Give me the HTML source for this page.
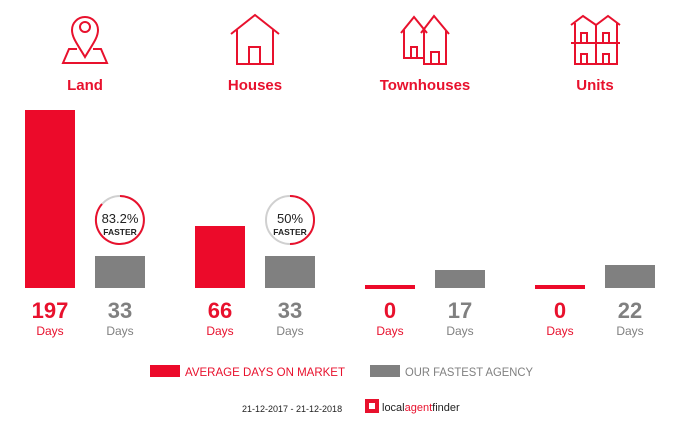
<!DOCTYPE html>
<html><head><style>
body{margin:0;width:700px;height:420px;background:#fff;overflow:hidden;font-family:"Liberation Sans",sans-serif}
</style></head><body>
<svg width="700" height="420" xmlns="http://www.w3.org/2000/svg" font-family="Liberation Sans, sans-serif">
<g fill="none" stroke="#e8112d" stroke-width="2">
<path d="M85 57 C78 45 72 38 72 30 A13 13 0 0 1 98 30 C98 38 92 45 85 57Z"/>
<circle cx="85" cy="27" r="5"/>
<path d="M77 49 H69 L63 63 H107 L101 49 H93"/>
<path d="M231 34 L255 15 L279 34 M237 30 V64 H273 V30"/>
<rect x="249" y="47" width="11" height="17"/>
<path d="M401 33 L414 17 L427 33 M404 30 V58 H424 M421 33 L434 16 L449 34 M424 29 V64 H446 V31"/>
<rect x="411" y="47" width="6" height="11"/><rect x="431" y="52" width="8" height="12"/>
<path d="M571 25 L583 16 L596 25 L608 16 L620 25 M575 23 V64 H617 V23 M596 25 V64 M571 43 H620"/>
<rect x="581" y="33" width="6" height="10"/><rect x="603" y="33" width="6" height="10"/>
<rect x="581" y="54" width="6" height="10"/><rect x="603" y="54" width="6" height="10"/>
</g>
<g fill="#e8112d" font-size="15" text-anchor="middle" font-weight="bold">
<text x="85" y="90">Land</text><text x="255" y="90">Houses</text><text x="425" y="90">Townhouses</text><text x="595" y="90">Units</text>
</g>
<rect x="25" y="110" width="50" height="178" fill="#ec0a2a"/>
<rect x="95" y="256" width="50" height="32" fill="#808080"/>
<rect x="195" y="226" width="50" height="62" fill="#ec0a2a"/>
<rect x="265" y="256" width="50" height="32" fill="#808080"/>
<rect x="365" y="285" width="50" height="4" fill="#ec0a2a"/>
<rect x="435" y="270" width="50" height="18" fill="#808080"/>
<rect x="535" y="285" width="50" height="4" fill="#ec0a2a"/>
<rect x="605" y="265" width="50" height="23" fill="#808080"/>
<g>
<circle cx="120" cy="220" r="24" fill="#fff" stroke="#d0d0d0" stroke-width="2"/>
<path d="M120 196 A24 24 0 1 1 102 204" fill="none" stroke="#e8112d" stroke-width="2"/>
<text x="120" y="223" font-size="13" text-anchor="middle" fill="#222">83.2%</text>
<text x="120" y="235" font-size="8.5" font-weight="bold" text-anchor="middle" fill="#222">FASTER</text>
<circle cx="290" cy="220" r="24" fill="#fff" stroke="#d0d0d0" stroke-width="2"/>
<path d="M290 196 A24 24 0 0 1 290 244" fill="none" stroke="#e8112d" stroke-width="2"/>
<text x="290" y="223" font-size="13" text-anchor="middle" fill="#222">50%</text>
<text x="290" y="235" font-size="8.5" font-weight="bold" text-anchor="middle" fill="#222">FASTER</text>
</g>
<g font-size="22" font-weight="bold" text-anchor="middle">
<text x="50" y="318" fill="#e8112d">197</text><text x="120" y="318" fill="#808080">33</text>
<text x="220" y="318" fill="#e8112d">66</text><text x="290" y="318" fill="#808080">33</text>
<text x="390" y="318" fill="#e8112d">0</text><text x="460" y="318" fill="#808080">17</text>
<text x="560" y="318" fill="#e8112d">0</text><text x="630" y="318" fill="#808080">22</text>
</g>
<g font-size="12" text-anchor="middle">
<text x="50" y="335" fill="#e8112d">Days</text><text x="120" y="335" fill="#808080">Days</text>
<text x="220" y="335" fill="#e8112d">Days</text><text x="290" y="335" fill="#808080">Days</text>
<text x="390" y="335" fill="#e8112d">Days</text><text x="460" y="335" fill="#808080">Days</text>
<text x="560" y="335" fill="#e8112d">Days</text><text x="630" y="335" fill="#808080">Days</text>
</g>
<rect x="150" y="365" width="30" height="12" fill="#ec0a2a"/>
<text x="185" y="376" font-size="12" fill="#e8112d" textLength="160" lengthAdjust="spacingAndGlyphs">AVERAGE DAYS ON MARKET</text>
<rect x="370" y="365" width="30" height="12" fill="#808080"/>
<text x="405" y="376" font-size="12" fill="#808080" textLength="128" lengthAdjust="spacingAndGlyphs">OUR FASTEST AGENCY</text>
<text x="242" y="412" font-size="9" fill="#222">21-12-2017 - 21-12-2018</text>
<rect x="365" y="399" width="14" height="14" fill="#e8112d"/>
<rect x="369" y="403" width="6" height="6" fill="#fff"/>
<text x="382" y="411" font-size="11" fill="#222">local<tspan fill="#e8112d">agent</tspan>finder</text>
</svg>
</body></html>
